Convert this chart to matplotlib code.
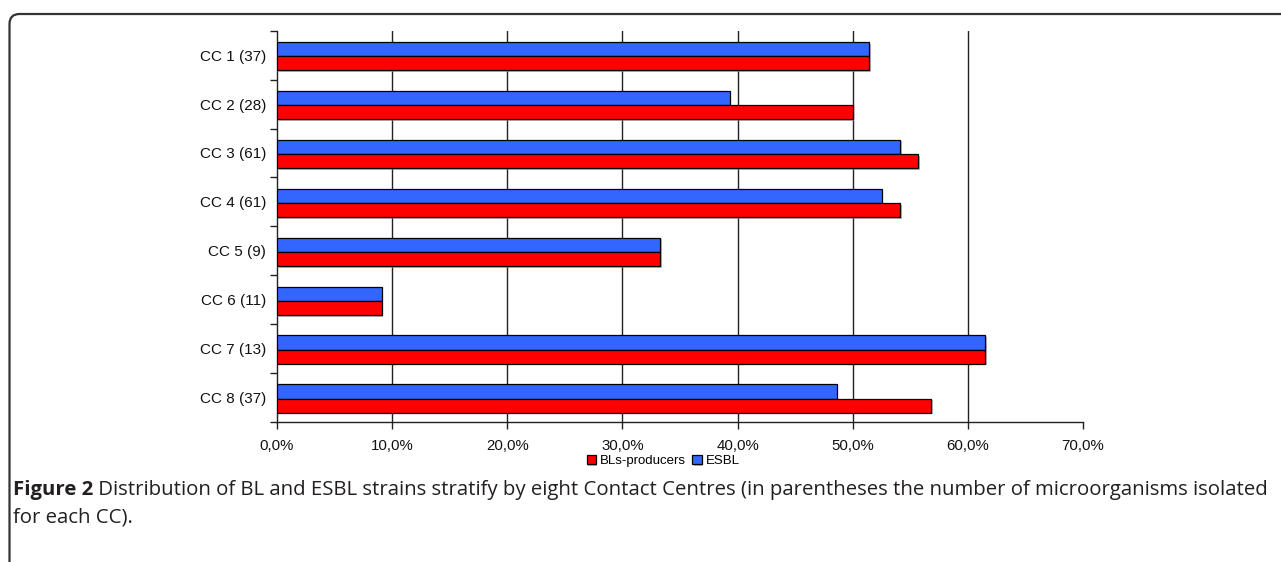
import matplotlib
matplotlib.use("Agg")
import matplotlib.pyplot as plt
import matplotlib.patheffects as pe
from matplotlib.path import Path
from matplotlib.patches import PathPatch
from matplotlib.ticker import FuncFormatter, FixedLocator
import numpy as np

categories = ["CC 1 (37)", "CC 2 (28)", "CC 3 (61)", "CC 4 (61)",
              "CC 5 (9)", "CC 6 (11)", "CC 7 (13)", "CC 8 (37)"]
esbl = [51.4, 39.3, 54.1, 52.5, 33.3, 9.1, 61.5, 48.6]
bl_producers = [51.4, 50.0, 55.7, 54.1, 33.3, 9.1, 61.5, 56.8]
xticks = [0, 10, 20, 30, 40, 50, 60, 70]
caption_bold = "Figure 2"
caption_rest = (" Distribution of BL and ESBL strains stratify by eight Contact Centres "
                "(in parentheses the number of microorganisms isolated")
caption_line2 = "for each CC)."

W, H = 1281, 562
fig = plt.figure(figsize=(W / 100, H / 100), dpi=100)
fig.patch.set_facecolor("white")

ax = fig.add_axes([277 / W, 1 - 422 / H, (1083 - 277) / W, (422 - 30.7) / H])

y = np.arange(len(categories))
h = 0.29
shadow = [pe.SimplePatchShadow(offset=(1.2, -1.2), shadow_rgbFace="#888888", alpha=0.6), pe.Normal()]
bb = ax.barh(y - h / 2 + 0.02, esbl, height=h, color="#3366FF", edgecolor="black",
             linewidth=0.9, label="ESBL", zorder=3)
br = ax.barh(y + h / 2 + 0.02, bl_producers, height=h, color="#FF0000", edgecolor="black",
             linewidth=0.9, label="BLs-producers", zorder=3)
for p in list(bb) + list(br):
    p.set_path_effects(shadow)

ax.set_ylim(len(categories) - 0.5, -0.5)
ax.set_xlim(0, 70)

ax.set_yticks(y)
ax.set_yticklabels(categories, fontsize=11, family="Liberation Sans", color="#111111")
ax.tick_params(axis="y", which="major", length=0, pad=8)
ax.yaxis.set_minor_locator(FixedLocator(np.arange(-0.5, len(categories), 1.0)))
ax.tick_params(axis="y", which="minor", length=5, width=1.0, direction="out", color="#222222")

ax.set_xticks(xticks)
ax.xaxis.set_major_formatter(FuncFormatter(lambda v, pos: f"{v:.1f}%".replace(".", ",")))
ax.tick_params(axis="x", which="major", length=5, width=1.0, direction="out", pad=7,
               labelsize=10.8, color="#222222", labelcolor="#111111")
for lab in ax.get_xticklabels():
    lab.set_family("Liberation Sans")

for v in xticks[1:-1]:
    ax.axvline(v, color="#222222", linewidth=1.0, zorder=1)

for s in ["top", "right"]:
    ax.spines[s].set_visible(False)
for s in ["left", "bottom"]:
    ax.spines[s].set_color("#222222")
    ax.spines[s].set_linewidth(1.0)

handles = [br, bb]
fig.legend(handles, ["BLs-producers", "ESBL"], loc="center",
           bbox_to_anchor=(663 / W, 1 - 461 / H), ncol=2, frameon=False,
           handlelength=0.7, handleheight=0.7, handletextpad=0.3, columnspacing=0.5,
           prop={"family": "Liberation Sans", "size": 9.5})

# caption
renderer = fig.canvas.get_renderer()
cap_fs = 14.7
t1 = fig.text(13 / W, 1 - 490 / H, caption_bold, fontsize=cap_fs, fontweight="bold",
              family="Open Sans", color="#231f20", va="center", ha="left")
b1 = t1.get_window_extent(renderer)
fig.text(b1.x1 / W, 1 - 490 / H, caption_rest, fontsize=cap_fs,
         family="Open Sans", color="#231f20", va="center", ha="left")
fig.text(13 / W, 1 - 517 / H, caption_line2, fontsize=cap_fs,
         family="Open Sans", color="#231f20", va="center", ha="left")

# frame: rounded top-left border
r = 10
x0, y0 = 9.5, 14
verts = [(x0, H + 5), (x0, y0 + r), (x0, y0), (x0 + r, y0), (W + 5, y0)]
codes = [Path.MOVETO, Path.LINETO, Path.CURVE3, Path.CURVE3, Path.LINETO]
verts_fig = [(vx / W, 1 - vy / H) for vx, vy in verts]
fig.patches.append(PathPatch(Path(verts_fig, codes), transform=fig.transFigure,
                             fill=False, edgecolor="#333333", linewidth=1.6))

fig.savefig("out.png", dpi=100, facecolor="white")
